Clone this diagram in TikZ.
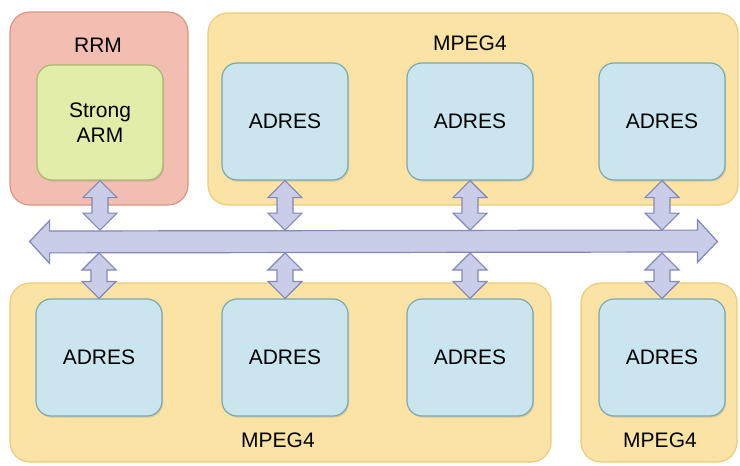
\documentclass[tikz,border=0pt]{standalone}
\usepackage{fontspec}
\setmainfont{Liberation Sans}
\usepackage{xcolor}
\usetikzlibrary{shapes, positioning, shadows, calc}

\definecolor{rrmfill}{HTML}{F2BEB2}
\definecolor{rrmline}{HTML}{D99585}
\definecolor{armfill}{HTML}{E3EDAA}
\definecolor{armline}{HTML}{A9B96E}
\definecolor{mpegfill}{HTML}{FAE3A5}
\definecolor{mpegline}{HTML}{EDCB78}
\definecolor{adresfill}{HTML}{CBE5EF}
\definecolor{adresline}{HTML}{7BA9B0}
\definecolor{busfill}{HTML}{C9CDE8}
\definecolor{busline}{HTML}{8286B8}

\tikzset{
    group/.style={rounded corners=10pt, line width=0.6pt, inner sep=0pt},
    core/.style={rounded corners=7.5pt, line width=0.6pt, inner sep=0pt,
        minimum width=63pt, minimum height=58.5pt, align=center,
        drop shadow={shadow xshift=0.6pt, shadow yshift=-0.8pt, opacity=0.25}},
    adres/.style={core, fill=adresfill, draw=adresline},
    link/.style={fill=busfill, draw=busline, line width=0.6pt, line join=miter},
}

% fat double arrow between two points, top one first
\newcommand{\vlink}[2]{%
    \path[link] let \p1=(#1), \p2=(#2) in
        (\x1,\y1) -- (\x1+8.5pt,\y1-8.5pt) -- (\x1+4pt,\y1-8.5pt)
        -- (\x1+4pt,\y2+8.5pt) -- (\x1+8.5pt,\y2+8.5pt) -- (\x1,\y2)
        -- (\x1-8.5pt,\y2+8.5pt) -- (\x1-4pt,\y2+8.5pt)
        -- (\x1-4pt,\y1-8.5pt) -- (\x1-8.5pt,\y1-8.5pt) -- cycle;
}

\begin{document}
\begin{tikzpicture}[x=0.5pt, y=-0.5pt, font=\fontsize{10.5}{12.5}\selectfont]
    \useasboundingbox (0,0) rectangle (740,466);

    % groups
    \node[group, fill=rrmfill, draw=rrmline, minimum width=89pt, minimum height=96.5pt] (rrm) at (99,108.5) {};
    \node[group, fill=mpegfill, draw=mpegline, minimum width=265pt, minimum height=96pt] (mpegA) at (473,109) {};
    \node[group, fill=mpegfill, draw=mpegline, minimum width=270.5pt, minimum height=89.5pt] (mpegB) at (280.5,372.5) {};
    \node[group, fill=mpegfill, draw=mpegline, minimum width=78pt, minimum height=89.5pt] (mpegC) at (659,372.5) {};

    \node (rrmlbl) at (98,45) {RRM};
    \node (mpegAlbl) at (470,43) {MPEG4};
    \node (mpegBlbl) at (278,440) {MPEG4};
    \node (mpegClbl) at (660,440) {MPEG4};

    % cores
    \node[core, fill=armfill, draw=armline, minimum height=57.5pt] (arm) at (100,122.5) {Strong\\ARM};
    \node[adres] (a1) at (285,121.5) {ADRES};
    \node[adres] (a2) at (470,121.5) {ADRES};
    \node[adres] (a3) at (662,121.5) {ADRES};
    \node[adres] (b0) at (99,357.5) {ADRES};
    \node[adres] (b1) at (285,357.5) {ADRES};
    \node[adres] (b2) at (470,357.5) {ADRES};
    \node[adres] (b3) at (662,357.5) {ADRES};

    % bus
    \node[minimum width=343.5pt, minimum height=11pt, inner sep=0pt] (bus) at (373.5,241.5) {};
    \path[link] (bus.west) -- ++(20,-21) -- ++(0,10.5) -- ($(bus.north east)+(-20,0)$)
        -- ++(0,-10.5) -- (bus.east) -- ++(-20,21) -- ++(0,-10.5)
        -- ($(bus.south west)+(20,0)$) -- ++(0,10.5) -- cycle;

    \vlink{arm.south}{arm.south |- bus.north}
    \vlink{a1.south}{a1.south |- bus.north}
    \vlink{a2.south}{a2.south |- bus.north}
    \vlink{a3.south}{a3.south |- bus.north}
    \vlink{b0.north |- bus.south}{b0.north}
    \vlink{b1.north |- bus.south}{b1.north}
    \vlink{b2.north |- bus.south}{b2.north}
    \vlink{b3.north |- bus.south}{b3.north}
\end{tikzpicture}
\end{document}
